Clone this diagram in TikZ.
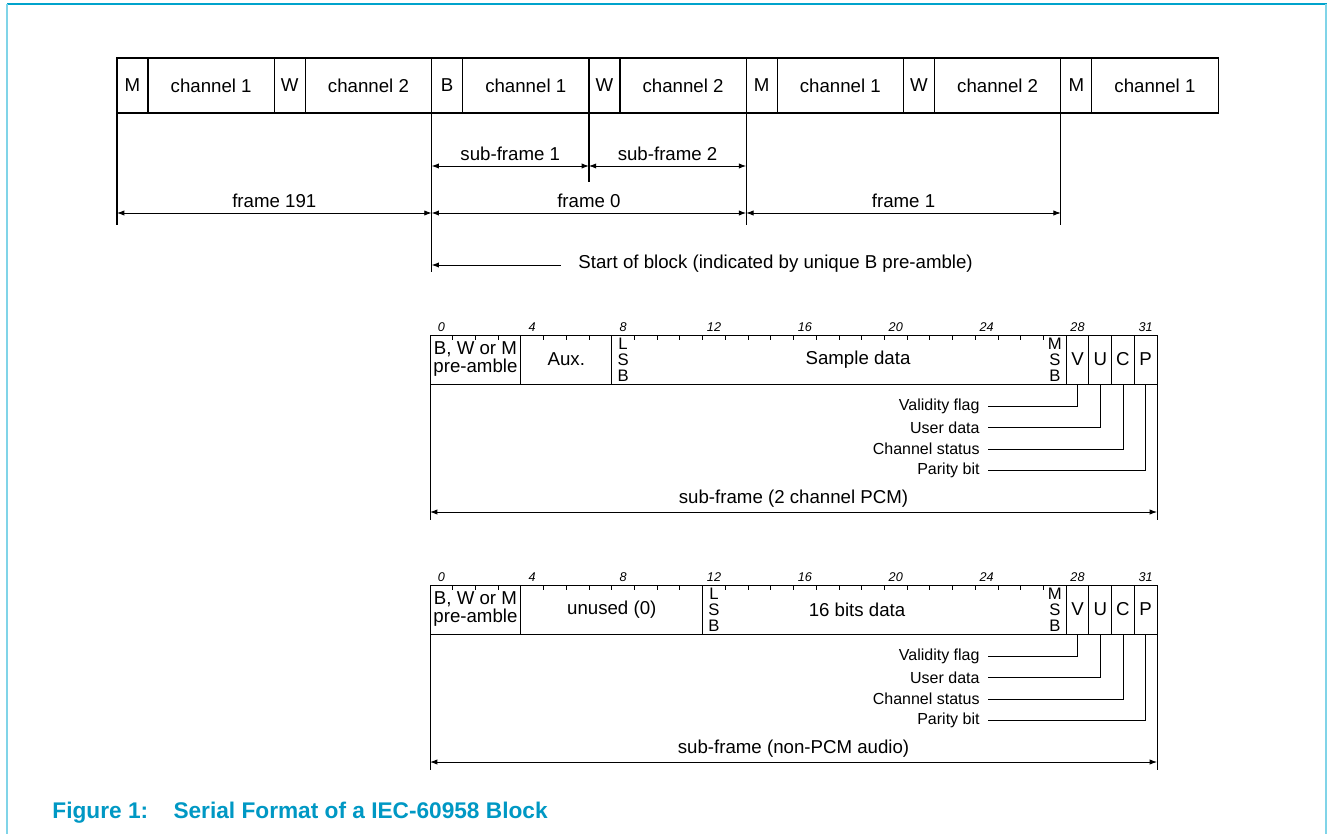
\documentclass[tikz,border=0pt]{standalone}
\usepackage{fontspec}
\setmainfont{Liberation Sans}
\usetikzlibrary{arrows.meta,positioning}
\definecolor{figblue}{RGB}{0,152,196}
\definecolor{rulelight}{RGB}{128,212,232}
\definecolor{ruledark}{RGB}{0,163,204}
\tikzset{
	cellbox/.style={draw, line width=0.9pt, minimum height=41.25pt, inner sep=0pt, outer sep=0pt, anchor=north west},
	bitbox/.style={draw, line width=0.7pt, minimum height=36.75pt, inner sep=0pt, outer sep=0pt, anchor=north west},
	dimarrow/.style={line width=0.7pt, {Latex[length=5.5pt,width=4pt]}-{Latex[length=5.5pt,width=4pt]}},
	bitnum/.style={font=\fontsize{9.5}{10}\selectfont\itshape, inner sep=0pt},
	stackl/.style={font=\fontsize{12.5}{12}\selectfont, align=center, inner sep=0pt},
	flaglabel/.style={font=\fontsize{12}{14}\selectfont, anchor=east, inner sep=0pt},
}

\begin{document}
\begin{tikzpicture}[x=0.75pt, y=-0.75pt, font=\fontsize{14}{16}\selectfont, line width=0.7pt]
	\useasboundingbox (0,0) rectangle (1327,834);
	% page rules
	\draw[ruledark, line width=1.5pt] (7,4) -- (1327,4);
	\draw[rulelight, line width=1.5pt] (7,4) -- (7,834);
	\draw[rulelight, line width=1.5pt] (1325.5,4) -- (1325.5,834);
	% block of sub-frames
	\foreach \p/\c [count=\k from 0] in {M/1,W/2,B/1,W/2,M/1,W/2,M/1} {
		\node[cellbox, minimum width=23.25pt] (p\k) at ({117+157.3*\k},58) {\p};
		\node[cellbox, minimum width=94.725pt] (c\k) at (p\k.north east) {channel \c};
	}
	\foreach \k/\len in {0/112,2/159,4/112,6/112} {\draw[line width=0.9pt] (p\k.south west) -- ++(0,\len);}
	\draw[line width=0.9pt] (p3.south west) -- ++(0,69);
	\foreach \k in {0,2,4,6} {\path (p\k.south west) ++(0,100) coordinate (f\k);}
	\foreach \k in {2,3,4} {\path (p\k.south west) ++(0,53) coordinate (s\k);}
	\draw[dimarrow] (s2) -- node[above] (lsf1) {sub-frame 1} (s3);
	\draw[dimarrow] (s3) -- node[above] (lsf2) {sub-frame 2} (s4);
	\draw[dimarrow] (f0) -- node[above] (lf191) {frame 191} (f2);
	\draw[dimarrow] (f2) -- node[above] (lf0) {frame 0} (f4);
	\draw[dimarrow] (f4) -- node[above] (lf1) {frame 1} (f6);
	\path (p2.south west) ++(0,152) coordinate (sob);
	\node[anchor=west, inner sep=0pt] (sobtxt) at (578,264) {Start of block (indicated by unique B pre-amble)};
	\draw[-{Latex[length=5.5pt,width=4pt]}] ([xshift=-13pt]sobtxt.west |- sob) -- (sob);
	% the two sub-frame layouts
	\foreach \r/\oy/\lsb/\fld/\dat/\datx/\sub in {1/0/8/Aux./Sample data/858/sub-frame (2 channel PCM),2/250/12/unused (0)/16 bits data/857/sub-frame (non-PCM audio)} {
		\foreach \n in {0,4,8,12,16,20,24,28,31} {\node[bitnum] (n\r-\n) at ({430+(\n+0.5)*22.72},{327+\oy}) {\n};}
		\node[bitbox, minimum width=68.16pt, align=center, font=\fontsize{14}{13.5}\selectfont] (pre\r) at (430,{335+\oy}) {B, W or M\\pre-amble};
		\node[bitbox, minimum width={(\lsb-4)*17.04pt}] (fld\r) at (pre\r.north east) {\fld};
		\node[bitbox, minimum width={(28-\lsb)*17.04pt}] (dat\r) at (fld\r.north east) {};
		\node (dtx\r) at (\datx,{359.5+\oy}) {\dat};
		\node[bitbox, minimum width=17.04pt] (V\r) at (dat\r.north east) {V};
		\node[bitbox, minimum width=17.04pt] (U\r) at (V\r.north east) {U};
		\node[bitbox, minimum width=17.04pt] (C\r) at (U\r.north east) {C};
		\node[bitbox, minimum width=17.04pt] (P\r) at (C\r.north east) {P};
		\foreach \b in {1,...,27} {\draw ({430+\b*22.72},{335+\oy}) -- ++(0,5);}
		\node[stackl] (lsb\r) at ({430+(\lsb+0.5)*22.72},{359.5+\oy}) {L\\S\\B};
		\node[stackl] (msb\r) at ({430+27.5*22.72},{359.5+\oy}) {M\\S\\B};
		\foreach \f/\txt [count=\i from 0] in {V/Validity flag,U/User data,C/Channel status,P/Parity bit} {
			\node[flaglabel] (lab\f\r) at (980,{406+21.5*\i+\oy}) {\txt};
			\draw (\f\r.south) |- ([xshift=6pt]lab\f\r.east);
		}
		\draw (pre\r.south west) -- ++(0,136);
		\draw (P\r.south east) -- ++(0,136);
		\path (pre\r.south west) ++(0,128) coordinate (al\r);
		\path (P\r.south east) ++(0,128) coordinate (ar\r);
		\draw[dimarrow] (al\r) -- node[above] (sub\r) {\sub} (ar\r);
	}
	\node[anchor=west, inner sep=0pt, text=figblue, font=\fontsize{17}{19}\selectfont\bfseries] (title) at (52,813) {Figure 1:\hspace{19pt}Serial Format of a IEC-60958 Block};
\end{tikzpicture}
\end{document}
